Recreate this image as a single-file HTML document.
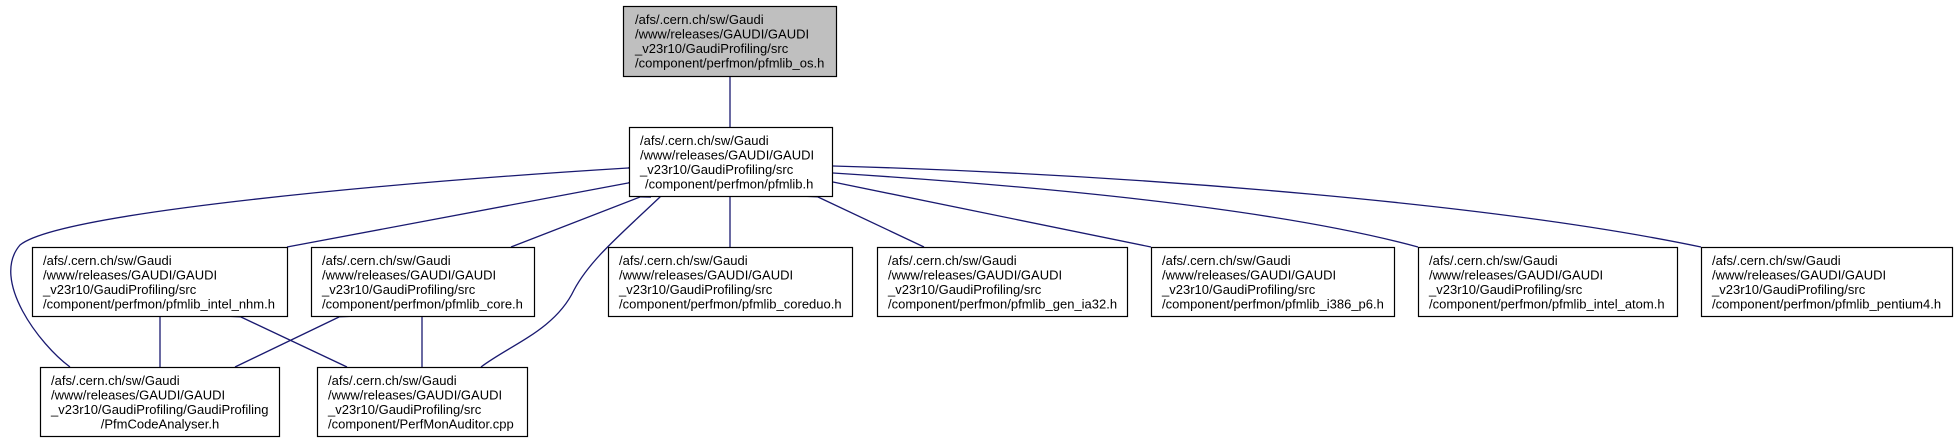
<!DOCTYPE html>
<html><head><meta charset="utf-8"><style>
html,body{margin:0;padding:0;background:#fff;}
svg{display:block;}
text{font-family:"Liberation Sans",sans-serif;font-size:13px;fill:#000;}
</style></head><body>
<svg width="1957" height="443" viewBox="0 0 1957 443" xmlns="http://www.w3.org/2000/svg">
<defs>
<marker id="a" viewBox="0 0 10 10" refX="0" refY="5" markerWidth="10" markerHeight="10" markerUnits="userSpaceOnUse" orient="auto-start-reverse">
<path d="M0,5 L10,0.8 L10,9.2 Z" fill="#191970" stroke="#191970"/>
</marker>
</defs>
<g fill="none" stroke="#191970" stroke-width="1.3" marker-start="url(#a)">
<path d="M730,77 L730,127"/>
<path d="M628,168 C400,182 60,212 20,245 C-10,280 40,345 70,367"/>
<path d="M628,183 L287,247"/>
<path d="M640,197 L511,247"/>
<path d="M660,197 C620,235 590,260 574,290 C555,330 510,345 481,367"/>
<path d="M730,197 L730,247"/>
<path d="M818,197 L924,247"/>
<path d="M833,182 L1151,247"/>
<path d="M833,173 C1100,190 1300,215 1418,247"/>
<path d="M833,166 C1150,175 1500,205 1701,247"/>
<path d="M160,317 L160,367"/>
<path d="M241,317 L347,367"/>
<path d="M339,317 L235,367"/>
<path d="M422,317 L422,367"/>
</g>
<g stroke="#000" stroke-width="1.2">
<rect x="623.5" y="6.5" width="213" height="70" fill="#bfbfbf"/>
<rect x="629.5" y="127.5" width="203" height="69" fill="#fff"/>
<rect x="32.5" y="247.5" width="255" height="69" fill="#fff"/>
<rect x="311.5" y="247.5" width="223" height="69" fill="#fff"/>
<rect x="608.5" y="247.5" width="244" height="69" fill="#fff"/>
<rect x="877.5" y="247.5" width="250" height="69" fill="#fff"/>
<rect x="1151.5" y="247.5" width="243" height="69" fill="#fff"/>
<rect x="1418.5" y="247.5" width="259" height="69" fill="#fff"/>
<rect x="1701.5" y="247.5" width="251" height="69" fill="#fff"/>
<rect x="40.5" y="367.5" width="239" height="69" fill="#fff"/>
<rect x="317.5" y="367.5" width="210" height="69" fill="#fff"/>
</g>
<text x="635" y="24">/afs/.cern.ch/sw/Gaudi</text>
<text x="635" y="38.5">/www/releases/GAUDI/GAUDI</text>
<text x="635" y="53">_v23r10/GaudiProfiling/src</text>
<text x="635" y="67.5">/component/perfmon/pfmlib_os.h</text>

<text x="640" y="145">/afs/.cern.ch/sw/Gaudi</text>
<text x="640" y="159.5">/www/releases/GAUDI/GAUDI</text>
<text x="640" y="174">_v23r10/GaudiProfiling/src</text>
<text x="645" y="188.5">/component/perfmon/pfmlib.h</text>

<g>
<text x="43" y="265">/afs/.cern.ch/sw/Gaudi</text>
<text x="43" y="279.5">/www/releases/GAUDI/GAUDI</text>
<text x="43" y="294">_v23r10/GaudiProfiling/src</text>
<text x="43" y="308.5">/component/perfmon/pfmlib_intel_nhm.h</text>

<text x="322" y="265">/afs/.cern.ch/sw/Gaudi</text>
<text x="322" y="279.5">/www/releases/GAUDI/GAUDI</text>
<text x="322" y="294">_v23r10/GaudiProfiling/src</text>
<text x="322" y="308.5">/component/perfmon/pfmlib_core.h</text>

<text x="619" y="265">/afs/.cern.ch/sw/Gaudi</text>
<text x="619" y="279.5">/www/releases/GAUDI/GAUDI</text>
<text x="619" y="294">_v23r10/GaudiProfiling/src</text>
<text x="619" y="308.5">/component/perfmon/pfmlib_coreduo.h</text>

<text x="888" y="265">/afs/.cern.ch/sw/Gaudi</text>
<text x="888" y="279.5">/www/releases/GAUDI/GAUDI</text>
<text x="888" y="294">_v23r10/GaudiProfiling/src</text>
<text x="888" y="308.5">/component/perfmon/pfmlib_gen_ia32.h</text>

<text x="1162" y="265">/afs/.cern.ch/sw/Gaudi</text>
<text x="1162" y="279.5">/www/releases/GAUDI/GAUDI</text>
<text x="1162" y="294">_v23r10/GaudiProfiling/src</text>
<text x="1162" y="308.5">/component/perfmon/pfmlib_i386_p6.h</text>

<text x="1429" y="265">/afs/.cern.ch/sw/Gaudi</text>
<text x="1429" y="279.5">/www/releases/GAUDI/GAUDI</text>
<text x="1429" y="294">_v23r10/GaudiProfiling/src</text>
<text x="1429" y="308.5">/component/perfmon/pfmlib_intel_atom.h</text>

<text x="1712" y="265">/afs/.cern.ch/sw/Gaudi</text>
<text x="1712" y="279.5">/www/releases/GAUDI/GAUDI</text>
<text x="1712" y="294">_v23r10/GaudiProfiling/src</text>
<text x="1712" y="308.5">/component/perfmon/pfmlib_pentium4.h</text>

<text x="51" y="385">/afs/.cern.ch/sw/Gaudi</text>
<text x="51" y="399.5">/www/releases/GAUDI/GAUDI</text>
<text x="51" y="414">_v23r10/GaudiProfiling/GaudiProfiling</text>
<text x="160" y="428.5" text-anchor="middle">/PfmCodeAnalyser.h</text>

<text x="328" y="385">/afs/.cern.ch/sw/Gaudi</text>
<text x="328" y="399.5">/www/releases/GAUDI/GAUDI</text>
<text x="328" y="414">_v23r10/GaudiProfiling/src</text>
<text x="328" y="428.5">/component/PerfMonAuditor.cpp</text>
</g>
</svg>
</body></html>
